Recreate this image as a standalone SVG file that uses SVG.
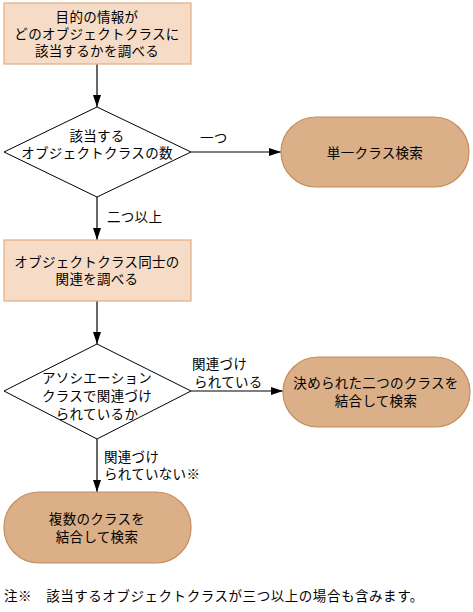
<svg xmlns="http://www.w3.org/2000/svg" width="473" height="612" viewBox="0 0 473 612">
<defs>
<style>
text{font-family:"Noto Sans CJK JP","Noto Sans CJK SC",sans-serif;font-size:13.5px;fill:#000;dominant-baseline:central;letter-spacing:0.3px}
.c{text-anchor:middle}
.note{letter-spacing:0.55px}
.box{fill:#f6dcc6;stroke:#e0ae86;stroke-width:1.2}
.term{fill:#dbaf87;stroke:#c68c5c;stroke-width:1.2}
.dia{fill:#fff;stroke:#000;stroke-width:1}
.ln{stroke:#000;stroke-width:1.2;fill:none;marker-end:url(#ah)}
</style>
<marker id="ah" viewBox="0 0 12 8" refX="12" refY="4" markerWidth="12" markerHeight="8" markerUnits="userSpaceOnUse" orient="auto">
<path d="M0,0 L12,4 L0,8 Z" fill="#000"/>
</marker>
</defs>
<rect width="473" height="612" fill="#fff"/>
<g id="connectors">
<line class="ln" x1="97" y1="64" x2="97" y2="107"/>
<line class="ln" x1="191" y1="152" x2="281" y2="152"/>
<line class="ln" x1="97" y1="197" x2="97" y2="240"/>
<line class="ln" x1="97" y1="301" x2="97" y2="344"/>
<line class="ln" x1="191" y1="391" x2="283" y2="391"/>
<line class="ln" x1="97" y1="439" x2="97" y2="492"/>
<text x="200" y="137">一つ</text>
<text x="107" y="216">二つ以上</text>
<text x="192" y="363">関連づけ</text>
<text x="194" y="381">られている</text>
<text x="104" y="456">関連づけ</text>
<text x="104" y="473">られていない※</text>
</g>
<g id="n1">
<rect class="box" x="4" y="3" width="187" height="61"/>
<text class="c" x="97" y="16">目的の情報が</text>
<text class="c" x="97" y="33">どのオブジェクトクラスに</text>
<text class="c" x="97" y="50">該当するかを調べる</text>
</g>
<g id="d1">
<polygon class="dia" points="97,107 191,152 97,197 4,152"/>
<text class="c" x="97" y="135">該当する</text>
<text class="c" x="97" y="152">オブジェクトクラスの数</text>
</g>
<g id="t1">
<rect class="term" x="281" y="117" width="188" height="70" rx="35" ry="35"/>
<text class="c" x="375" y="152">単一クラス検索</text>
</g>
<g id="n2">
<rect class="box" x="4" y="240" width="187" height="61"/>
<text class="c" x="97" y="261">オブジェクトクラス同士の</text>
<text class="c" x="97" y="278">関連を調べる</text>
</g>
<g id="d2">
<polygon class="dia" points="97,344 191,391 97,439 4,391"/>
<text class="c" x="97" y="377">アソシエーション</text>
<text class="c" x="97" y="395">クラスで関連づけ</text>
<text class="c" x="97" y="413">られているか</text>
</g>
<g id="t2">
<rect class="term" x="283" y="357" width="187" height="70" rx="35" ry="35"/>
<text class="c" x="376" y="382">決められた二つのクラスを</text>
<text class="c" x="376" y="400">結合して検索</text>
</g>
<g id="t3">
<rect class="term" x="4" y="492" width="187" height="71" rx="35" ry="35"/>
<text class="c" x="97" y="518">複数のクラスを</text>
<text class="c" x="97" y="536">結合して検索</text>
</g>
<g id="note">
<text class="note" x="4" y="595">注※　該当するオブジェクトクラスが三つ以上の場合も含みます。</text>
</g>
</svg>
